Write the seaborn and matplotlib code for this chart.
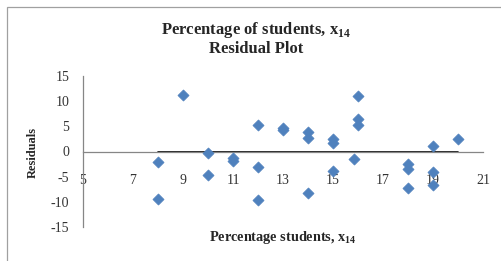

import matplotlib
matplotlib.use("Agg")
import matplotlib.pyplot as plt
import pandas as pd
import seaborn as sns
from matplotlib.patches import Rectangle

# residuals vs. percentage of students (x14)
pct_students = [8, 8, 9, 10, 10, 11, 11, 12, 12, 12, 13, 13, 14, 14, 14,
                15, 15, 15, 15.85, 16, 16, 16, 18, 18, 18, 19, 19, 19, 20]
residuals = [-2.0, -9.4, 11.3, -0.2, -4.6, -1.2, -1.8, 5.2, -3.1, -9.7, 4.6, 4.3,
             3.8, 2.7, -8.2, 2.4, 1.6, -3.9, -1.5, 11.0, 6.4, 5.2, -2.5, -3.4,
             -7.2, 1.0, -4.0, -6.6, 2.5]
x_ticks = [5, 7, 9, 11, 13, 15, 17, 19, 21]
y_ticks = [-15, -10, -5, 0, 5, 10, 15]

df = pd.DataFrame({"x": pct_students, "res": residuals})

sns.set_theme(style="white")
plt.rcParams["font.family"] = ["Liberation Serif", "DejaVu Serif"]
plt.rcParams["mathtext.fontset"] = "custom"
plt.rcParams["mathtext.rm"] = "Liberation Serif"
plt.rcParams["mathtext.bf"] = "Liberation Serif:bold"
plt.rcParams["axes.unicode_minus"] = False

fig = plt.figure(figsize=(5.01, 2.61), dpi=100)
ax = fig.add_axes([83 / 501, 1 - 227 / 261, 400 / 501, 151 / 261])

sns.scatterplot(data=df, x="x", y="res", marker="D", s=32, color="#4F81BD",
                edgecolor="#4F81BD", linewidth=0.5, ax=ax, zorder=3)

# zero line over the data range
ax.plot([df["x"].min(), df["x"].max()], [0, 0], color="black", lw=1.2, zorder=2)

ax.set_xlim(5, 21)
ax.set_ylim(-15, 15)
ax.set_xticks(x_ticks)
ax.set_yticks(y_ticks)

for s in ["top", "right"]:
    ax.spines[s].set_visible(False)
ax.spines["bottom"].set_position(("data", 0))
for s in ["left", "bottom"]:
    ax.spines[s].set_color("#868686")
    ax.spines[s].set_linewidth(0.9)

ax.tick_params(axis="x", direction="out", length=4, width=0.8, color="#868686",
               pad=12, labelsize=10, labelcolor="#333333")
ax.tick_params(axis="y", direction="out", length=4, width=0.8, color="#868686",
               pad=6, labelsize=10, labelcolor="#333333")
ax.set_xlabel("")
ax.set_ylabel("")

fig.text(283 / 501, 1 - 238 / 261, r"Percentage students, x$_{\mathbf{14}}$",
         ha="center", va="center", fontsize=10.3, fontweight="bold")
fig.text(33 / 501, 1 - 152 / 261, "Residuals", rotation=90,
         ha="center", va="center", fontsize=9, fontweight="bold")
fig.text(256 / 501, 1 - 30 / 261, r"Percentage of students, x$_{\mathbf{14}}$",
         ha="center", va="center", fontsize=12, fontweight="bold")
fig.text(256 / 501, 1 - 49 / 261, "Residual Plot",
         ha="center", va="center", fontsize=12, fontweight="bold")

# chart area frame
fig.patches.append(Rectangle((7 / 501, -0.2), 1.2, 1.2 - 7 / 261,
                             transform=fig.transFigure, fill=False,
                             edgecolor="#a0a0a0", lw=0.9))

fig.savefig("out.png", dpi=100)
